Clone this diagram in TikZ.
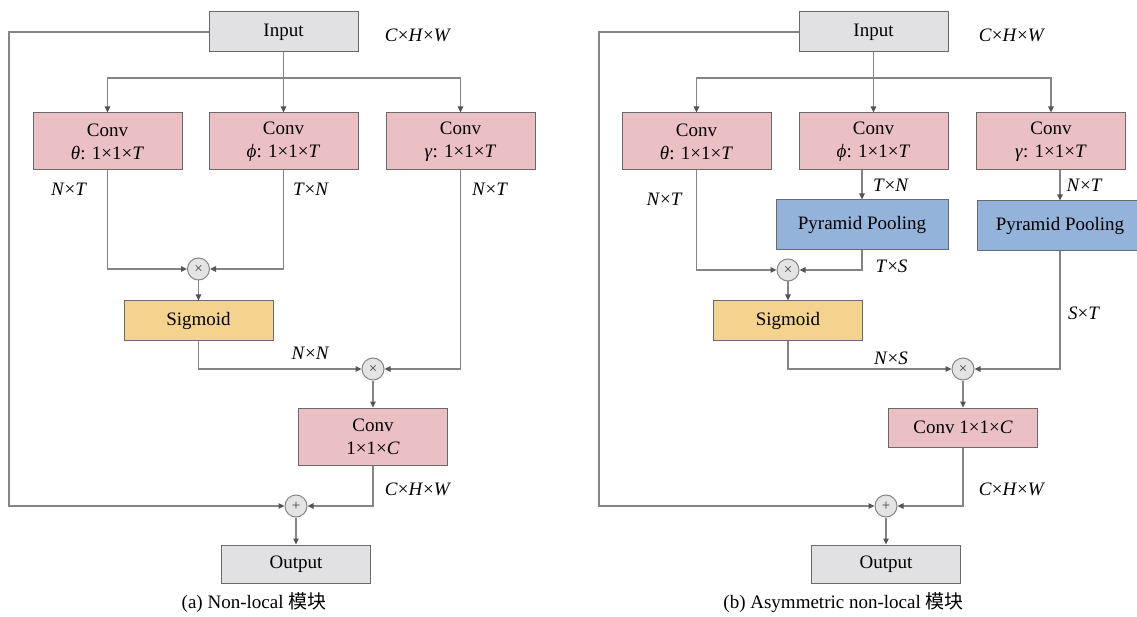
\documentclass[tikz,border=0pt]{standalone}
\usepackage{fontspec}
\setmainfont{Liberation Serif}
\newfontfamily\cjk{Noto Sans CJK SC}
\usetikzlibrary{arrows.meta}
\definecolor{grayfill}{HTML}{E1E1E3}
\definecolor{pinkfill}{HTML}{EBC0C4}
\definecolor{bluefill}{HTML}{93B3DA}
\definecolor{yelfill}{HTML}{F4D38E}
\definecolor{bordc}{HTML}{6A6A6A}
\definecolor{linec}{HTML}{858585}
\definecolor{tipc}{HTML}{555555}
\definecolor{circfill}{HTML}{E4E4E4}
\newcommand{\vi}[1]{\textit{#1}}
\begin{document}
\begin{tikzpicture}[x=1pt,y=-1pt,
  every node/.style={font=\fontsize{19}{23}\selectfont, text=black},
  blk/.style={draw=bordc, line width=1pt, minimum width=149pt, inner sep=0pt, align=center},
  graybox/.style={blk, fill=grayfill, minimum height=40pt},
  convbox/.style={blk, fill=pinkfill, minimum height=57pt},
  convone/.style={blk, fill=pinkfill, minimum height=39pt},
  poolbox/.style={blk, fill=bluefill, minimum height=50pt, minimum width=172pt},
  sigbox/.style={blk, fill=yelfill, minimum height=39pt},
  opnode/.style={circle, draw=linec, fill=circfill, line width=1pt, minimum size=22pt, inner sep=0pt, text=black!75, font=\fontsize{15}{15}\selectfont},
  wire/.style={draw=linec, line width=1.3pt},
  arr/.style={wire, -{Triangle[length=6pt,width=5.5pt,fill=tipc,color=tipc]}},
  lab/.style={inner sep=0pt}
]
\useasboundingbox (0,0) rectangle (1137,617);

% ---------------- (a) ----------------
\node[graybox] (inA) at (283.5,32) {Input};
\node[convbox] (thA) at (107.5,141.5) {Conv\\\vi{θ}: 1×1×\vi{T}};
\node[convbox] (phA) at (283.5,141.5) {Conv\\\vi{ϕ}: 1×1×\vi{T}};
\node[convbox] (gaA) at (460.5,141.5) {Conv\\\vi{γ}: 1×1×\vi{T}};
\node[opnode] (m1A) at (198.5,269) {×};
\node[sigbox] (sgA) at (198.5,320.5) {Sigmoid};
\node[opnode] (m2A) at (373,369) {×};
\node[convbox] (ccA) at (373,436.5) {Conv\\1×1×\vi{C}};
\node[opnode] (pA) at (296,506) {+};
\node[graybox, minimum height=38pt] (outA) at (296,564) {Output};
\coordinate (jA) at (283.5,78);
\coordinate (lA) at (9,506);

\draw[wire] (inA.south) -- (jA);
\draw[arr] (jA) -| (thA.north);
\draw[arr] (jA) -| (gaA.north);
\draw[arr] (jA) -- (phA.north);
\draw[arr] (thA.south) |- (m1A.west);
\draw[arr] (phA.south) |- (m1A.east);
\draw[arr] (m1A.south) -- (sgA.north);
\draw[arr] (sgA.south) |- (m2A.west);
\draw[arr] (gaA.south) |- (m2A.east);
\draw[arr] (m2A.south) -- (ccA.north);
\draw[arr] (ccA.south) |- (pA.east);
\draw[arr] (inA.west) -| (lA) -- (pA.west);
\draw[arr] (pA.south) -- (outA.north);

\node[lab] (lA1) at (418,35) {\vi{C}×\vi{H}×\vi{W}};
\node[lab] (lA2) at (69,189) {\vi{N}×\vi{T}};
\node[lab] (lA3) at (311,189) {\vi{T}×\vi{N}};
\node[lab] (lA4) at (490,189) {\vi{N}×\vi{T}};
\node[lab] (lA5) at (310.5,353) {\vi{N}×\vi{N}};
\node[lab] (lA6) at (418,489) {\vi{C}×\vi{H}×\vi{W}};
\node[lab] (capA) at (254,603) {(a) Non-local {\cjk 模块}};

% ---------------- (b) ----------------
\node[graybox] (inB) at (873.5,32) {Input};
\node[convbox] (thB) at (696.5,141.5) {Conv\\\vi{θ}: 1×1×\vi{T}};
\node[convbox] (phB) at (873.5,141.5) {Conv\\\vi{ϕ}: 1×1×\vi{T}};
\node[convbox] (gaB) at (1051,141.5) {Conv\\\vi{γ}: 1×1×\vi{T}};
\node[poolbox] (pp1) at (862,225) {Pyramid Pooling};
\node[poolbox, minimum width=166pt] (pp2) at (1060,226) {Pyramid Pooling};
\node[opnode] (m1B) at (788,270) {×};
\node[sigbox] (sgB) at (788,320.5) {Sigmoid};
\node[opnode] (m2B) at (963,369) {×};
\node[convone] (ccB) at (963,427.5) {Conv 1×1×\vi{C}};
\node[opnode] (pB) at (886,506) {+};
\node[graybox, minimum height=38pt] (outB) at (886,564) {Output};
\coordinate (jB) at (873.5,78);
\coordinate (lB) at (599,506);

\draw[wire] (inB.south) -- (jB);
\draw[arr] (jB) -| (thB.north);
\draw[arr] (jB) -| (gaB.north);
\draw[arr] (jB) -- (phB.north);
\draw[arr] (phB.south -| pp1.north) -- (pp1.north);
\draw[arr] (gaB.south -| pp2.north) -- (pp2.north);
\draw[arr] (thB.south) |- (m1B.west);
\draw[arr] (pp1.south) |- (m1B.east);
\draw[arr] (m1B.south) -- (sgB.north);
\draw[arr] (sgB.south) |- (m2B.west);
\draw[arr] (pp2.south) |- (m2B.east);
\draw[arr] (m2B.south) -- (ccB.north);
\draw[arr] (ccB.south) |- (pB.east);
\draw[arr] (inB.west) -| (lB) -- (pB.west);
\draw[arr] (pB.south) -- (outB.north);

\node[lab] (lB1) at (1012,35) {\vi{C}×\vi{H}×\vi{W}};
\node[lab] (lB2) at (664.5,199) {\vi{N}×\vi{T}};
\node[lab] (lB3) at (891,185) {\vi{T}×\vi{N}};
\node[lab] (lB4) at (1084.5,185) {\vi{N}×\vi{T}};
\node[lab] (lB5) at (891.5,266) {\vi{T}×\vi{S}};
\node[lab] (lB6) at (891,358) {\vi{N}×\vi{S}};
\node[lab] (lB7) at (1084,313) {\vi{S}×\vi{T}};
\node[lab] (lB8) at (1012,489) {\vi{C}×\vi{H}×\vi{W}};
\node[lab] (capB) at (843.5,603) {(b) Asymmetric non-local {\cjk 模块}};
\end{tikzpicture}
\end{document}
